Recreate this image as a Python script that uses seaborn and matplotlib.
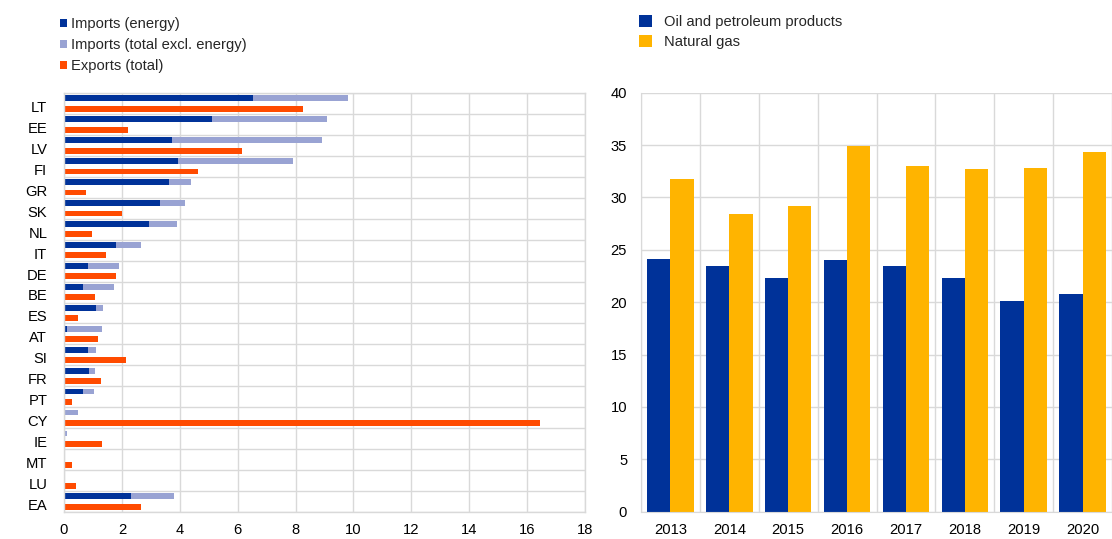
import numpy as np
import pandas as pd
import matplotlib
matplotlib.use("Agg")
import matplotlib.pyplot as plt
import seaborn as sns
from matplotlib.patches import Patch

# ---------------- data ----------------
countries = ["LT", "EE", "LV", "FI", "GR", "SK", "NL", "IT", "DE", "BE",
             "ES", "AT", "SI", "FR", "PT", "CY", "IE", "MT", "LU", "EA"]
imports_energy = [6.54, 5.12, 3.72, 3.94, 3.64, 3.32, 2.95, 1.80, 0.83, 0.66,
                  1.10, 0.11, 0.83, 0.86, 0.66, 0.03, 0.02, 0.01, 0.00, 2.32]
imports_non_energy = [3.28, 3.95, 5.21, 3.97, 0.74, 0.86, 0.94, 0.85, 1.06, 1.07,
                      0.25, 1.20, 0.29, 0.21, 0.36, 0.47, 0.07, 0.01, 0.00, 1.48]
exports_total = [8.25, 2.20, 6.14, 4.62, 0.75, 1.99, 0.97, 1.44, 1.81, 1.06,
                 0.50, 1.16, 2.13, 1.27, 0.26, 16.45, 1.30, 0.29, 0.41, 2.65]

years = ["2013", "2014", "2015", "2016", "2017", "2018", "2019", "2020"]
oil = [24.09, 23.45, 22.27, 23.99, 23.45, 22.34, 20.08, 20.78]
gas = [31.79, 28.38, 29.21, 34.93, 33.03, 32.74, 32.80, 34.33]

left_legend = ["Imports (energy)", "Imports (total excl. energy)", "Exports (total)"]
right_legend = ["Oil and petroleum products", "Natural gas"]

# ---------------- style ----------------
DARK = "#003299"
LIGHT = "#99A3D3"
ORANGE = "#FF4B00"
YELLOW = "#FFB400"
GRID = "#D9D9D9"

sns.set_style("white")
plt.rcParams["font.family"] = ["Liberation Sans", "DejaVu Sans"]
FS = 10.6

W, H = 1112, 539
fig = plt.figure(figsize=(W / 100, H / 100), dpi=100)

# ---------------- left chart ----------------
ax1 = fig.add_axes([64 / W, 1 - 512 / H, 521 / W, 419 / H])

imp_total = [e + n for e, n in zip(imports_energy, imports_non_energy)]
df_back = pd.DataFrame({
    "country": countries * 2,
    "flow": ["Imports"] * len(countries) + ["Exports"] * len(countries),
    "value": imp_total + exports_total,
})
df_front = pd.DataFrame({
    "country": countries * 2,
    "flow": ["Imports"] * len(countries) + ["Exports"] * len(countries),
    "value": imports_energy + exports_total,
})
common = dict(y="country", x="value", hue="flow", hue_order=["Imports", "Exports"],
              orient="h", width=1.0, gap=0.44, dodge=True, errorbar=None,
              saturation=1, legend=False, ax=ax1, order=countries, linewidth=0)
sns.barplot(data=df_back, palette={"Imports": LIGHT, "Exports": ORANGE}, **common)
sns.barplot(data=df_front, palette={"Imports": DARK, "Exports": ORANGE}, **common)

n = len(countries)
ax1.set_xlim(0, 18)
ax1.set_ylim(n - 0.5, -0.5)
ax1.set_xticks(np.arange(0, 19, 2))
ax1.set_yticks(np.arange(n) + 0.14)
ax1.set_yticklabels(countries)
ax1.set_yticks(np.arange(-0.5, n, 1), minor=True)
ax1.set_xlabel("")
ax1.set_ylabel("")
ax1.grid(False)
ax1.grid(True, axis="x", which="major", color=GRID, lw=1)
ax1.grid(True, axis="y", which="minor", color=GRID, lw=1)
ax1.set_axisbelow(True)
ax1.tick_params(axis="y", which="major", length=0, pad=12, labelsize=FS, labelcolor="#000000")
ax1.tick_params(axis="y", which="minor", length=4, color=GRID, width=1, direction="out")
ax1.tick_params(axis="x", which="major", length=0, pad=8, labelsize=FS, labelcolor="#000000")
for s in ax1.spines.values():
    s.set_color(GRID)
    s.set_linewidth(1)

# ---------------- right chart ----------------
ax2 = fig.add_axes([641 / W, 1 - 511.7 / H, 471 / W, 419 / H])
df_r = pd.DataFrame({
    "year": years * 2,
    "product": [right_legend[0]] * len(years) + [right_legend[1]] * len(years),
    "value": oil + gas,
})
sns.barplot(data=df_r, x="year", y="value", hue="product", hue_order=right_legend,
            palette={right_legend[0]: DARK, right_legend[1]: YELLOW},
            width=0.79, gap=0, errorbar=None, saturation=1, legend=False, ax=ax2,
            linewidth=0)
ax2.set_xlim(-0.5, 7.416)
ax2.set_ylim(0, 40)
ax2.set_yticks(np.arange(0, 41, 5))
ax2.set_xticks(np.arange(-0.5, len(years), 1), minor=True)
ax2.set_xlabel("")
ax2.set_ylabel("")
ax2.grid(False)
ax2.grid(True, axis="y", which="major", color=GRID, lw=1)
ax2.grid(True, axis="x", which="minor", color=GRID, lw=1)
ax2.set_axisbelow(True)
ax2.tick_params(axis="both", which="both", length=0, labelsize=FS, labelcolor="#000000")
ax2.tick_params(axis="y", pad=10)
ax2.tick_params(axis="x", pad=8)
ax2.spines["top"].set_visible(False)
ax2.spines["right"].set_visible(False)
ax2.spines["left"].set_color(GRID)
ax2.spines["bottom"].set_color(GRID)

# ---------------- legends ----------------
h_left = [Patch(facecolor=c, edgecolor="none") for c in (DARK, LIGHT, ORANGE)]
fig.legend(h_left, left_legend, loc="upper left", bbox_to_anchor=(60 / W, 1 - 17 / H),
           frameon=False, fontsize=FS, handlelength=0.5, handleheight=0.45,
           handletextpad=0.25, labelspacing=0.47, borderpad=0, borderaxespad=0)
h_right = [Patch(facecolor=c, edgecolor="none") for c in (DARK, YELLOW)]
fig.legend(h_right, right_legend, loc="upper left", bbox_to_anchor=(639 / W, 1 - 15 / H),
           frameon=False, fontsize=FS, handlelength=0.88, handleheight=0.82,
           handletextpad=0.8, labelspacing=0.42, borderpad=0, borderaxespad=0)

fig.savefig("out.png", dpi=100)
